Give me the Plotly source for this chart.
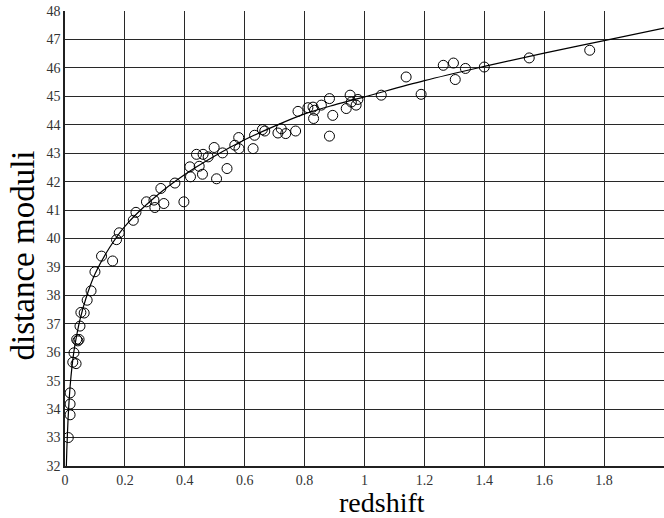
import plotly.graph_objects as go

z_obs = [0.011, 0.017, 0.017, 0.017, 0.026, 0.037, 0.030, 0.039, 0.047, 0.043,
         0.050, 0.053, 0.064, 0.074, 0.087, 0.100, 0.122, 0.159, 0.172, 0.181,
         0.228, 0.237, 0.272, 0.300, 0.297, 0.330, 0.320, 0.367, 0.397, 0.417,
         0.419, 0.439, 0.448, 0.459, 0.461, 0.478, 0.498, 0.506, 0.526, 0.541,
         0.567, 0.580, 0.581, 0.628, 0.633, 0.659, 0.667, 0.711, 0.722, 0.737,
         0.770, 0.778, 0.811, 0.828, 0.833, 0.830, 0.856, 0.883, 0.883, 0.894,
         0.939, 0.952, 0.956, 0.972, 0.978, 1.056, 1.139, 1.189, 1.263, 1.297,
         1.303, 1.337, 1.400, 1.550, 1.752]
mu_obs = [33.00, 33.80, 34.18, 34.57, 35.65, 35.60, 35.98, 36.45, 36.45, 36.40,
          36.92, 37.40, 37.38, 37.83, 38.16, 38.83, 39.38, 39.21, 39.96, 40.20,
          40.64, 40.92, 41.29, 41.09, 41.35, 41.23, 41.76, 41.95, 41.29, 42.52,
          42.17, 42.96, 42.54, 42.26, 42.96, 42.87, 43.20, 42.10, 43.01, 42.46,
          43.28, 43.55, 43.16, 43.16, 43.63, 43.83, 43.78, 43.71, 43.86, 43.69,
          43.78, 44.47, 44.60, 44.62, 44.51, 44.22, 44.69, 44.92, 43.60, 44.33,
          44.57, 45.04, 44.80, 44.69, 44.89, 45.04, 45.68, 45.07, 46.09, 46.17,
          45.59, 45.98, 46.03, 46.35, 46.62]

# model curve
z_fit = [0.0045, 0.006, 0.008, 0.010, 0.015, 0.020, 0.030, 0.040, 0.050, 0.070,
         0.100, 0.150, 0.200, 0.300, 0.400, 0.500, 0.600, 0.700, 0.800, 0.900,
         1.000, 1.200, 1.400, 1.600, 1.800, 2.000]
mu_fit = [32.00, 32.55, 33.10, 33.60, 34.50, 35.15, 36.05, 36.65, 37.15, 37.90,
          38.75, 39.70, 40.43, 41.45, 42.25, 42.90, 43.47, 43.95, 44.38, 44.70,
          44.98, 45.55, 46.05, 46.52, 46.96, 47.40]

x_ticks = [0, 0.2, 0.4, 0.6, 0.8, 1, 1.2, 1.4, 1.6, 1.8, 2]
x_tick_text = ["0", "0.2", "0.4", "0.6", "0.8", "1", "1.2", "1.4", "1.6", "1.8", "2"]
y_ticks = list(range(32, 49))

fig = go.Figure()
fig.add_trace(go.Scatter(x=z_fit, y=mu_fit, mode="lines", line=dict(color="black", width=1.2, shape="spline"),
                         hoverinfo="skip", showlegend=False))
fig.add_trace(go.Scatter(x=z_obs, y=mu_obs, mode="markers",
                         marker=dict(symbol="circle-open", size=10, color="black", line=dict(width=1)),
                         showlegend=False))

font_family = "Liberation Serif"
fig.update_layout(
    width=664, height=518,
    margin=dict(l=65, r=0, t=11, b=52, autoexpand=False),
    paper_bgcolor="white", plot_bgcolor="white",
    font=dict(family=font_family, color="#222"),
    xaxis=dict(range=[0, 2], tickvals=x_ticks, ticktext=x_tick_text, showgrid=True, automargin=False,
               gridcolor="#282828", gridwidth=1.4, zeroline=False, showline=True,
               linecolor="#202020", linewidth=1.5, ticks="", tickfont=dict(size=14, family=font_family, color="#333"),
               mirror=False),
    yaxis=dict(range=[32, 48], tickvals=y_ticks, showgrid=True, gridcolor="#282828", gridwidth=1.4,
               automargin=False, zeroline=False, showline=True, linecolor="#202020", linewidth=1.5, ticks="",
               tickfont=dict(size=14, family=font_family, color="#333"), ticklabelstandoff=0),
    annotations=[
        dict(text="redshift", xref="paper", yref="paper", x=0.529, y=-0.081, xanchor="center",
             yanchor="middle", showarrow=False, font=dict(size=28, family=font_family, color="black")),
        dict(text="distance moduli", xref="paper", yref="paper", x=-0.070, y=0.463, xanchor="center",
             yanchor="middle", textangle=-90, showarrow=False,
             font=dict(size=33, family=font_family, color="black")),
    ],
)

fig.write_html("out.html", config={"displayModeBar": False},
               post_script="document.body.style.margin='0';document.body.style.overflow='hidden';")
